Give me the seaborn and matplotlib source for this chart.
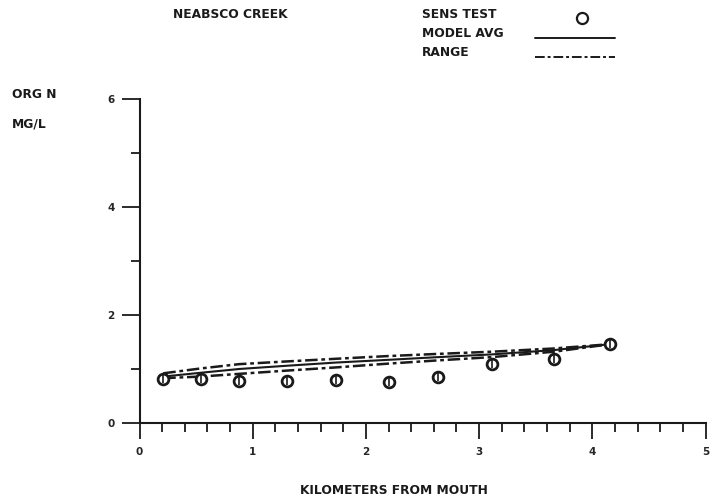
import numpy as np
import pandas as pd
import matplotlib
matplotlib.use("Agg")
import matplotlib.pyplot as plt
from matplotlib.lines import Line2D
from matplotlib.ticker import MultipleLocator
import seaborn as sns

# River kilometre stations (km from mouth)
km = [0.21, 0.54, 0.88, 1.30, 1.74, 2.20, 2.64, 3.11, 3.66, 4.16]
# Sensitivity test organic nitrogen (mg/L)
sens_test = [0.82, 0.81, 0.78, 0.78, 0.79, 0.76, 0.85, 1.09, 1.19, 1.46]
# Model average and range envelope (mg/L)
model_avg = [0.86, 0.93, 1.00, 1.06, 1.12, 1.17, 1.22, 1.27, 1.35, 1.46]
range_hi = [0.92, 1.01, 1.09, 1.14, 1.19, 1.24, 1.28, 1.32, 1.38, 1.46]
range_lo = [0.83, 0.86, 0.91, 0.97, 1.03, 1.10, 1.16, 1.22, 1.32, 1.46]

x_ticks = [0, 1, 2, 3, 4, 5]
y_ticks = [0, 2, 4, 6]

sns.set_theme(style="white")
plt.rcParams["font.family"] = ["DejaVu Sans"]
plt.rcParams["font.weight"] = "bold"

ink = "#1a1a1a"
fs = 8.8
tfs = 7.5

df = pd.DataFrame({"km": km, "sens": sens_test, "avg": model_avg,
                   "hi": range_hi, "lo": range_lo})

fig = plt.figure(figsize=(7.13, 5.03), dpi=100)
ax = fig.add_axes([139.5 / 713, 80 / 503, 566 / 713, 324 / 503])

dash = (5, 1.5, 1.5, 1.5)
sns.lineplot(data=df, x="km", y="hi", ax=ax, color=ink, lw=1.8,
             linestyle=(0, dash))
sns.lineplot(data=df, x="km", y="lo", ax=ax, color=ink, lw=1.8,
             linestyle=(0, dash))
sns.lineplot(data=df, x="km", y="avg", ax=ax, color=ink, lw=1.5)
sns.scatterplot(data=df, x="km", y="sens", ax=ax, marker="o", s=60,
                facecolor="white", edgecolor=ink, linewidth=2.0, zorder=5)
sns.scatterplot(data=df, x="km", y="sens", ax=ax, marker="|", s=40,
                color=ink, linewidth=1.2, zorder=6)

ax.set_xlim(0, 5)
ax.set_ylim(0, 6)
ax.set_xticks(x_ticks)
ax.set_yticks(y_ticks)
ax.set_xticklabels([str(v) for v in x_ticks], fontsize=tfs, fontweight="bold")
ax.set_yticklabels([str(v) for v in y_ticks], fontsize=tfs, fontweight="bold")
ax.xaxis.set_minor_locator(MultipleLocator(0.2))
ax.yaxis.set_minor_locator(MultipleLocator(1))
ax.tick_params(axis="x", which="major", direction="out", length=11.5, width=1.3,
               color=ink, pad=6, bottom=True)
ax.tick_params(axis="x", which="minor", direction="out", length=6.5, width=1.3,
               color=ink, bottom=True)
ax.tick_params(axis="y", which="major", direction="out", length=13, width=1.3,
               color=ink, pad=5, left=True)
ax.tick_params(axis="y", which="minor", direction="out", length=6.5, width=1.3,
               color=ink, left=True)
ax.set_xlabel("")
ax.set_ylabel("")
for side in ("top", "right"):
    ax.spines[side].set_visible(False)
for side in ("left", "bottom"):
    ax.spines[side].set_color(ink)
    ax.spines[side].set_linewidth(1.5)
ax.set_facecolor("white")

def ftxt(x, y, s, ha="left"):
    fig.text(x / 713, 1 - y / 503, s, fontsize=fs, fontweight="bold",
             color=ink, ha=ha, va="center")

ftxt(173, 15, "NEABSCO CREEK")
ftxt(422, 15, "SENS TEST")
ftxt(422, 33, "MODEL AVG")
ftxt(422, 52, "RANGE")
ftxt(12, 95, "ORG N")
ftxt(12, 124, "MG/L")
ftxt(300, 490, "KILOMETERS FROM MOUTH")

# key symbols
fig.add_artist(Line2D([582 / 713], [1 - 18 / 503], marker="o", ms=8,
                      mfc="white", mec=ink, mew=1.6, transform=fig.transFigure))
fig.add_artist(Line2D([535 / 713, 615 / 713], [1 - 38 / 503] * 2, color=ink,
                      lw=1.4, transform=fig.transFigure))
fig.add_artist(Line2D([535 / 713, 615 / 713], [1 - 57 / 503] * 2, color=ink,
                      lw=1.4, linestyle=(0, dash), transform=fig.transFigure))

fig.savefig("out.png", dpi=100, facecolor="white")
